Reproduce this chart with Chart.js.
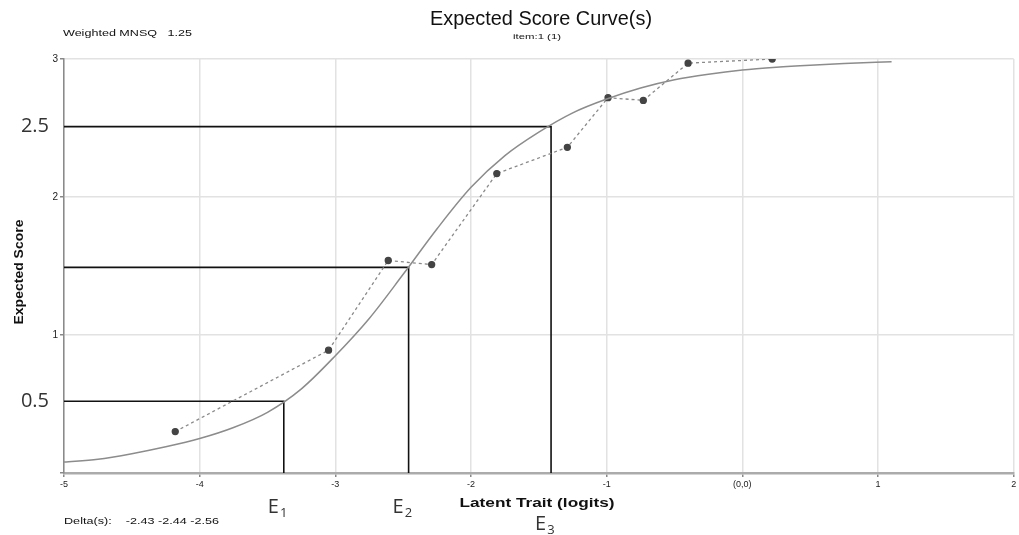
<!DOCTYPE html>
<html>
<head>
<meta charset="utf-8">
<script src="https://cdn.jsdelivr.net/npm/chart.js@4/dist/chart.umd.min.js"></script>
<style>
html,body{margin:0;padding:0;background:#fff;}
#wrap{width:1019px;height:535px;}
</style>
</head>
<body>
<div id="wrap"><canvas id="esc" width="1019" height="535"></canvas></div>
<script>
// model curve
const modelX=[-5,-4.75,-4.5,-4.25,-4,-3.75,-3.5,-3.25,-3,-2.75,-2.5,-2.25,-2,-1.75,-1.5,-1.25,-1,-0.75,-0.5,-0.25,0,0.25,0.5,0.75,1.1];
const modelY=[0.08,0.10,0.14,0.19,0.25,0.33,0.44,0.61,0.85,1.12,1.44,1.77,2.07,2.30,2.47,2.61,2.71,2.79,2.85,2.89,2.92,2.94,2.955,2.967,2.98];
// observed scores
const obsX=[-4.18,-3.05,-2.61,-2.29,-1.81,-1.29,-0.99,-0.73,-0.40,0.22];
const obsY=[0.30,0.89,1.54,1.51,2.17,2.36,2.72,2.70,2.97,3.00];
// thresholds E1..E3
const threshX=[-3.38,-2.46,-1.41];
const threshY=[0.52,1.49,2.51];
const threshNames=['1','2','3'];
const levelLabels=['0.5','2.5'];
const levelValues=[0.52,2.51];
const xTicks=[-5,-4,-3,-2,-1,0,1,2];

function pts(xs,ys){return xs.map((x,i)=>({x:x,y:ys[i]}));}

var datasets=[{
  data:pts(modelX,modelY),
  borderColor:'#8c8c8c',borderWidth:1.5,pointRadius:0,cubicInterpolationMode:'monotone',showLine:true
},{
  data:pts(obsX,obsY),
  borderColor:'#8a8a8a',borderWidth:1.3,borderDash:[3,3],showLine:true,
  pointRadius:3,pointBackgroundColor:'#444',pointBorderColor:'#444'
}];
for(var k=0;k<threshX.length;k++){
  datasets.push({
    data:[{x:-5,y:threshY[k]},{x:threshX[k],y:threshY[k]},{x:threshX[k],y:0}],
    borderColor:'#111',borderWidth:1.6,pointRadius:0,showLine:true
  });
}

// draw text stretched to a given width (the original text is wide)
function wideText(c,t,x,y,w,align){
  var m=c.measureText(t).width, sx=w/m;
  c.save();
  c.translate(x,y);c.scale(sx,1);
  c.textAlign=align;
  c.fillText(t,0,0);
  c.restore();
}

const textPlugin={
  id:'texts',
  afterDraw(chart){
    const c=chart.ctx, xs=chart.scales.x, ys=chart.scales.y;
    c.save();
    c.fillStyle='#111';
    c.textBaseline='middle';
    c.font='20px "Liberation Sans", Arial, sans-serif';
    wideText(c,'Expected Score Curve(s)',541,19,222,'center');
    c.font='8px "Liberation Sans", Arial, sans-serif';
    wideText(c,'item:1 (1)',537,37,48,'center');
    c.font='9px "Liberation Sans", Arial, sans-serif';
    wideText(c,'Weighted MNSQ   1.25',63,34,129,'left');
    wideText(c,'Delta(s):    -2.43 -2.44 -2.56',64,522,155,'left');
    c.font='bold 13px "Liberation Sans", Arial, sans-serif';
    wideText(c,'Latent Trait (logits)',537,503,155,'center');
    c.save();
    c.translate(19,272);c.rotate(-Math.PI/2);
    wideText(c,'Expected Score',0,0,105,'center');
    c.restore();
    // big annotation labels
    c.fillStyle='#333';
    c.font='20px "Open Sans", "Noto Sans", sans-serif';
    c.textAlign='right';
    for(var i=0;i<levelLabels.length;i++){
      c.fillText(levelLabels[i],49,ys.getPixelForValue(levelValues[i]));
    }
    c.textAlign='left';
    for(var j=0;j<threshX.length;j++){
      var px=xs.getPixelForValue(threshX[j])-16;
      var py=j==2?524:507;
      c.font='20px "Open Sans", "Noto Sans", sans-serif';
      c.fillText('E',px,py);
      var w=c.measureText('E').width;
      c.font='13px "Open Sans", "Noto Sans", sans-serif';
      c.fillText(threshNames[j],px+w+1,py+6);
    }
    c.restore();
  }
};

new Chart(document.getElementById('esc'),{
  type:'scatter',
  data:{datasets:datasets},
  options:{
    responsive:false,animation:false,
    layout:{padding:{top:59,right:2,left:0,bottom:0}},
    plugins:{legend:{display:false},tooltip:{enabled:false},title:{display:false}},
    scales:{
      x:{
        type:'linear',min:-5,max:2,
        afterBuildTicks(s){s.ticks=xTicks.map(v=>({value:v}));},
        afterFit(s){s.height=62;},
        grid:{color:'#e2e2e2',lineWidth:1.5,tickColor:'#888',tickLength:4},
        border:{color:'#ababab',width:2.5},
        ticks:{padding:2,color:'#222',font:{size:9,family:'"Liberation Sans", Arial, sans-serif'},
          callback:v=>v===0?'(0,0)':String(v)}
      },
      y:{
        min:0,max:3,
        afterFit(s){s.width=64;},
        grid:{color:'#e2e2e2',lineWidth:1.5,tickColor:'#888',tickLength:4},
        border:{color:'#8a8a8a',width:1.5},
        ticks:{stepSize:1,padding:2,color:'#222',font:{size:10,family:'"Liberation Sans", Arial, sans-serif'},
          callback:v=>v===0?'':String(v)}
      }
    }
  },
  plugins:[textPlugin]
});
</script>
</body>
</html>
